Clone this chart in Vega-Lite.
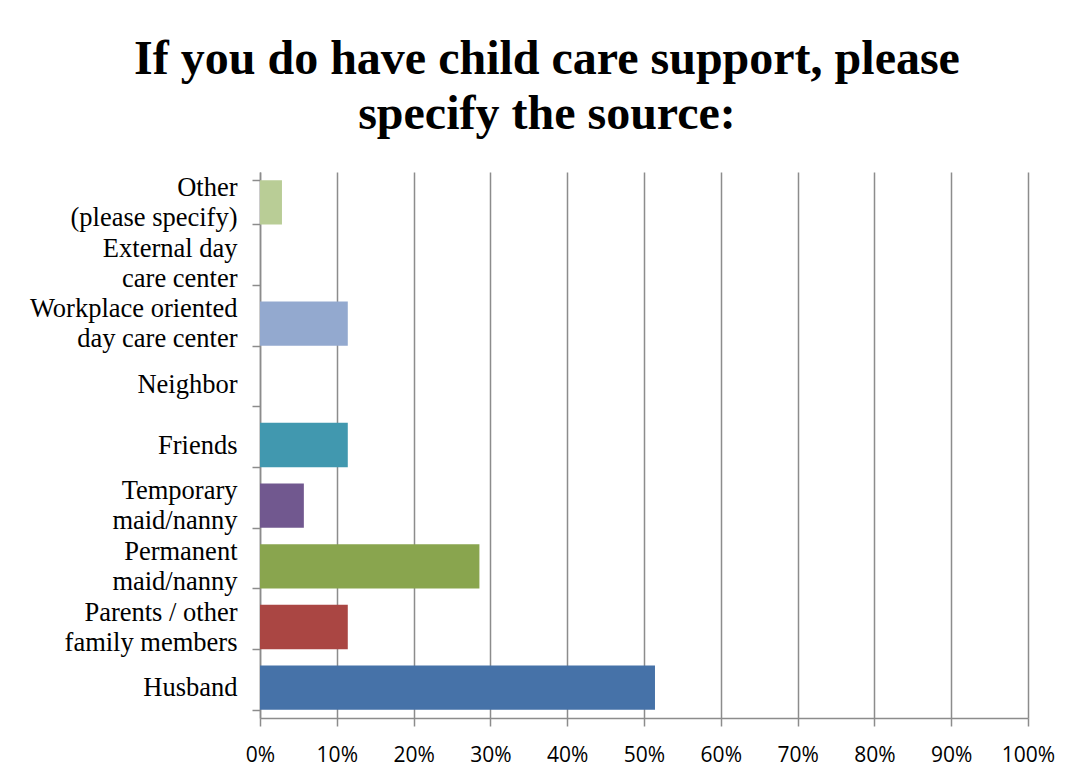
{
  "$schema": "https://vega.github.io/schema/vega-lite/v6.json",
  "width": 768,
  "height": 546,
  "autosize": "none",
  "padding": {"left": 260, "top": 172, "right": 50, "bottom": 65},
  "background": "white",
  "title": {
    "text": ["If you do have child care support, please", "specify the source:"],
    "font": "Liberation Serif",
    "fontSize": 48,
    "fontWeight": "bold",
    "color": "black",
    "lineHeight": 55,
    "anchor": "middle",
    "dx": -97,
    "offset": 20
  },
  "data": {
    "values": [
      {"source": "Other|(please specify)", "pct": 0.0286, "order": 1, "color": "#B9CD96"},
      {"source": "External day|care center ", "pct": 0, "order": 2, "color": "#D19392"},
      {"source": "Workplace oriented|day care center", "pct": 0.1143, "order": 3, "color": "#93A9CF"},
      {"source": "Neighbor", "pct": 0, "order": 4, "color": "#DB843D"},
      {"source": "Friends", "pct": 0.1143, "order": 5, "color": "#4198AF"},
      {"source": "Temporary |maid/nanny", "pct": 0.0571, "order": 6, "color": "#71588F"},
      {"source": "Permanent |maid/nanny", "pct": 0.2857, "order": 7, "color": "#89A54E"},
      {"source": "Parents / other |family members", "pct": 0.1143, "order": 8, "color": "#AA4643"},
      {"source": "Husband", "pct": 0.5143, "order": 9, "color": "#4672A8"}
    ]
  },
  "mark": {"type": "bar"},
  "encoding": {
    "y": {
      "field": "source",
      "type": "nominal",
      "sort": {"field": "order", "order": "ascending"},
      "scale": {"paddingInner": 0.27, "paddingOuter": 0.135},
      "axis": {
        "title": null,
        "tickBand": "extent",
        "labelExpr": "split(datum.label, '|')",
        "labelFontSize": 26.5,
        "labelLineHeight": 30,
        "labelColor": "black",
        "labelPadding": 15,
        "labelOffset": {"condition": {"test": "indexof(datum.label, '|') >= 0", "value": -15}, "value": 0},
        "tickSize": 8,
        "tickColor": "#8c8c8c",
        "tickWidth": 1.5,
        "domainColor": "#8c8c8c",
        "domainWidth": 1.5,
        "labelLimit": 300,
        "grid": false
      }
    },
    "x": {
      "field": "pct",
      "type": "quantitative",
      "scale": {"domain": [0, 1], "nice": false},
      "axis": {
        "title": null,
        "format": ".0%",
        "values": [0, 0.1, 0.2, 0.3, 0.4, 0.5, 0.6, 0.7, 0.8, 0.9, 1],
        "labelFontSize": 21,
        "labelColor": "black",
        "labelPadding": 18,
        "labelFlush": false,
        "tickSize": 8,
        "tickColor": "#8c8c8c",
        "tickWidth": 1.5,
        "domainColor": "#8c8c8c",
        "domainWidth": 1.5,
        "grid": true,
        "gridColor": "#8c8c8c",
        "gridWidth": 1.5,
        "gridOpacity": 1
      }
    },
    "color": {"field": "color", "type": "nominal", "scale": null, "legend": null}
  },
  "config": {
    "view": {"stroke": null},
    "axisY": {"labelFont": "Liberation Serif"},
    "axisX": {"labelFont": "Open Sans"}
  }
}
